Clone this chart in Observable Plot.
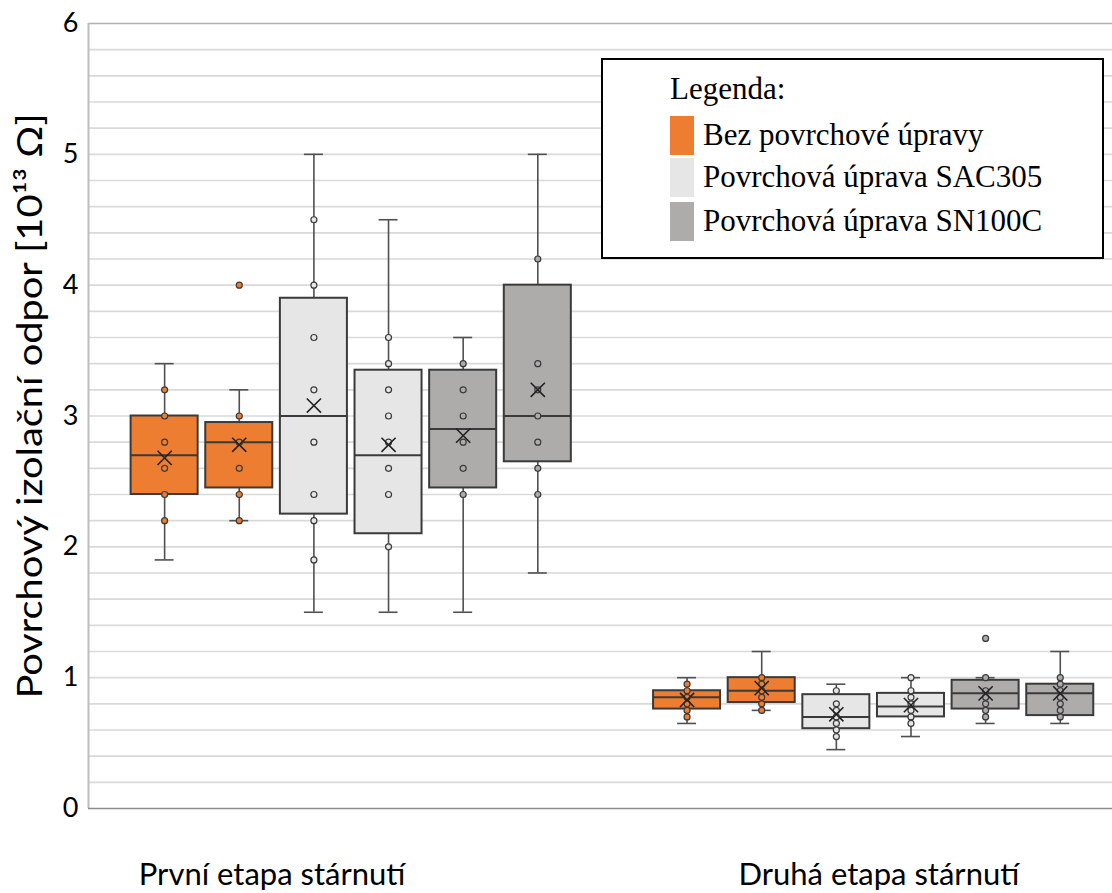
<!DOCTYPE html>
<html>
<head>
<meta charset="utf-8">
<script src="https://cdn.jsdelivr.net/npm/d3@7"></script>
<script src="https://cdn.jsdelivr.net/npm/@observablehq/plot@0.6"></script>
<style>
  html, body { margin: 0; padding: 0; background: #fff; }
  #wrap { position: relative; width: 1112px; height: 893px; overflow: hidden; }
  #legend { position: absolute; left: 601px; top: 58px; width: 499px; height: 197px;
    border: 2px solid #000; background: #fff; font-family: "Liberation Serif", "Times New Roman", serif;
    font-size: 31px; color: #000; }
  #legend .title { position: absolute; left: 67px; top: 11px; line-height: 36px; }
  #legend .row { position: absolute; left: 67px; height: 40px; line-height: 40px; }
  #legend .sw { position: absolute; left: 0; top: 1px; width: 24px; height: 39px; }
  #legend .lbl { position: absolute; left: 33px; white-space: nowrap; }
</style>
</head>
<body>
<div id="wrap"></div>
<script>
// ---- data ----
const stages = ["První etapa stárnutí", "Druhá etapa stárnutí"];
const series = ["Bez povrchové úpravy", "Povrchová úprava SAC305", "Povrchová úprava SN100C"];
const seriesColors = ["#ED7D31", "#E7E6E6", "#AEABAB"];
const yTicks = [0, 1, 2, 3, 4, 5, 6];
const yTitle = "Povrchový izolační odpor [10¹³ Ω]";

// boxes, in drawing order (stage, series)
const boxStage  = [0, 0, 0, 0, 0, 0, 1, 1, 1, 1, 1, 1];
const boxSeries = [0, 0, 1, 1, 2, 2, 0, 0, 1, 1, 2, 2];
const whiskerLow  = [1.9, 2.2, 1.5, 1.5, 1.5, 1.8, 0.65, 0.75, 0.45, 0.55, 0.65, 0.65];
const quartile1   = [2.4, 2.45, 2.25, 2.1, 2.45, 2.65, 0.76, 0.81, 0.61, 0.70, 0.76, 0.71];
const medianVals  = [2.7, 2.8, 3.0, 2.7, 2.9, 3.0, 0.85, 0.90, 0.70, 0.78, 0.88, 0.88];
const quartile3   = [3.0, 2.95, 3.9, 3.35, 3.35, 4.0, 0.90, 1.00, 0.87, 0.88, 0.98, 0.95];
const whiskerHigh = [3.4, 3.2, 5.0, 4.5, 3.6, 5.0, 1.00, 1.20, 0.95, 1.00, 1.00, 1.20];
const meanVals    = [2.68, 2.78, 3.08, 2.78, 2.85, 3.2, 0.83, 0.92, 0.72, 0.79, 0.88, 0.88];
const innerPoints = [
  [3.2, 3.0, 2.8, 2.6, 2.4, 2.2],
  [3.0, 2.8, 2.6, 2.4, 2.2],
  [4.5, 4.0, 3.6, 3.2, 2.8, 2.4, 2.2, 1.9],
  [3.6, 3.4, 3.2, 3.0, 2.8, 2.6, 2.4, 2.0],
  [3.4, 3.2, 3.0, 2.8, 2.6, 2.4],
  [4.2, 3.4, 3.2, 3.0, 2.8, 2.6, 2.4],
  [0.95, 0.9, 0.85, 0.8, 0.75, 0.7],
  [1.0, 0.95, 0.9, 0.85, 0.8, 0.75],
  [0.9, 0.8, 0.75, 0.7, 0.65, 0.6, 0.55],
  [1.0, 0.9, 0.85, 0.8, 0.75, 0.7, 0.65],
  [1.0, 0.9, 0.85, 0.8, 0.75, 0.7],
  [1.0, 0.95, 0.9, 0.85, 0.8, 0.75, 0.7]
];
const outliers = [[], [4.0], [], [], [], [], [], [], [], [], [1.3], []];

// ---- layout (derived) ----
const slotsPerStage = 7;           // 6 boxes + 1 empty slot between stages
const boxHalf = 0.449, capHalf = 0.127;
const stageLabelX = [1.44, 9.57];

const withinIdx = {};
const boxes = boxStage.map((s, i) => {
  withinIdx[s] = (withinIdx[s] ?? -1) + 1;
  return {
    pos: s * slotsPerStage + withinIdx[s],
    series: boxSeries[i], lo: whiskerLow[i], q1: quartile1[i], med: medianVals[i],
    q3: quartile3[i], hi: whiskerHigh[i], mean: meanVals[i]
  };
});
const caps = boxes.flatMap(b => [{pos: b.pos, v: b.lo}, {pos: b.pos, v: b.hi}]);
const pts = boxes.flatMap((b, i) => innerPoints[i].concat(outliers[i]).map(v => ({pos: b.pos, v, series: b.series})));
const gridVals = d3.range(1, 30).map(i => +(i * 0.2).toFixed(1));

const font = "Lato, 'Open Sans', sans-serif";
const chart = Plot.plot({
  width: 1112, height: 893,
  marginLeft: 88, marginRight: 0, marginTop: 23, marginBottom: 85,
  style: {fontFamily: font, color: "#000", background: "#fff", overflow: "visible"},
  x: {domain: [-1.02, 12.70], axis: null},
  y: {domain: [0, 6], axis: null},
  marks: [
    Plot.ruleY(gridVals, {stroke: "#d9d9d9", strokeWidth: 1.6}),
    Plot.ruleY([6], {stroke: "#b0b0b0", strokeWidth: 1.5}),
    Plot.ruleX([-1.02], {stroke: "#bdbdbd", strokeWidth: 2}),
    Plot.ruleY([0], {stroke: "#8c8c8c", strokeWidth: 1.5}),
    Plot.axisY({ticks: yTicks, tickSize: 0, tickPadding: 10, fontSize: 27, label: null, tickFormat: d3.format("d")}),
    Plot.ruleX(boxes, {x: "pos", y1: "lo", y2: "hi", stroke: "#505050", strokeWidth: 1.6}),
    Plot.ruleY(caps, {y: "v", x1: d => d.pos - capHalf, x2: d => d.pos + capHalf, stroke: "#505050", strokeWidth: 1.6}),
    Plot.rect(boxes, {x1: d => d.pos - boxHalf, x2: d => d.pos + boxHalf, y1: "q1", y2: "q3",
      fill: d => seriesColors[d.series], stroke: "#3a3a3a", strokeWidth: 2}),
    Plot.ruleY(boxes, {y: "med", x1: d => d.pos - boxHalf, x2: d => d.pos + boxHalf, stroke: "#3a3a3a", strokeWidth: 2}),
    Plot.dot(pts, {x: "pos", y: "v", r: 3, fill: d => seriesColors[d.series], stroke: "#3a3a3a", strokeWidth: 1.2}),
    Plot.dot(boxes, {x: "pos", y: "mean", symbol: "times", r: 6.5, stroke: "#222", strokeWidth: 1.6}),
    Plot.text(stages, {x: (d, i) => stageLabelX[i], frameAnchor: "bottom", dy: 67, fontSize: 31, lineAnchor: "middle", fill: "#000"}),
    Plot.text([yTitle], {frameAnchor: "left", textAnchor: "middle", dx: -57, dy: -10, rotate: -90, fontSize: 34, lineAnchor: "middle", fill: "#000"})
  ]
});
const wrap = document.getElementById("wrap");
wrap.appendChild(chart);

// stretch the rotated y title along its length (reference text is tall/narrow)
chart.querySelectorAll("text").forEach(el => {
  if (el.textContent === yTitle) {
    const tr = el.getAttribute("transform") || "";
    el.setAttribute("transform", tr + " scale(1.17,1)");
  }
});

// legend overlay
const lg = document.createElement("div");
lg.id = "legend";
const t = document.createElement("div");
t.className = "title"; t.textContent = "Legenda:";
lg.appendChild(t);
const rowTops = [55, 97, 141];
series.forEach((s, i) => {
  const r = document.createElement("div");
  r.className = "row"; r.style.top = rowTops[i] + "px";
  const sw = document.createElement("div");
  sw.className = "sw"; sw.style.background = seriesColors[i];
  const l = document.createElement("div");
  l.className = "lbl"; l.textContent = s;
  r.appendChild(sw); r.appendChild(l);
  lg.appendChild(r);
});
wrap.appendChild(lg);
</script>
</body>
</html>
